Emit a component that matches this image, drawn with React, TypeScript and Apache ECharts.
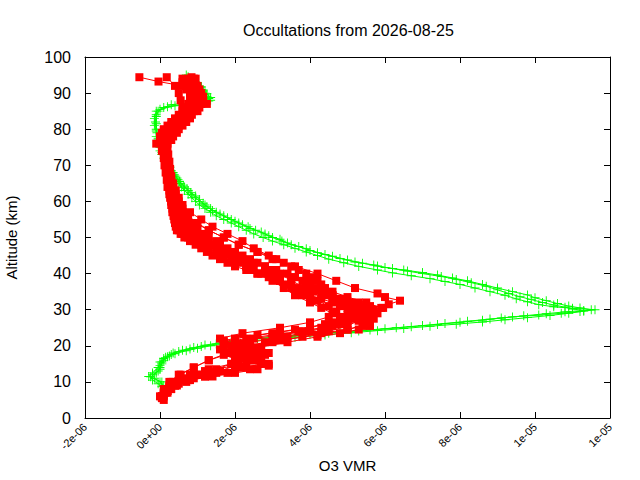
import React, { useEffect, useRef } from 'react';
import * as echarts from 'echarts';

// O3 VMR values in units of 1e-6, altitudes in km: [vmr, altitude]
const xTickValues = [-2, 0, 2, 4, 6, 8, 10, 12];
const xTickLabels = ['-2e-06', '0e+00', '2e-06', '4e-06', '6e-06', '8e-06', '1e-05', '1e-05'];

const green1: [number, number][] = [
  [0.05, 8.7], [-0.05, 9.5], [-0.2, 10.5], [-0.25, 11.4], [-0.1, 12.5], [0.0, 13.5], [0.0, 14.5], [0.05, 15.5],
  [0.1, 16.5], [0.25, 17.2], [0.35, 18], [0.6, 18.8], [0.9, 19.5], [1.2, 20.2], [1.6, 20.8], [2.0, 21.4],
  [2.6, 22], [3.3, 22.6], [4.0, 23.2], [4.8, 23.8], [5.6, 24.4], [6.3, 25], [7.0, 25.6], [7.6, 26.2],
  [8.2, 26.8], [8.8, 27.4], [9.4, 28], [10.1, 28.5], [10.7, 29], [11.2, 29.5], [11.5, 30], [11.2, 30.5],
  [10.9, 31], [10.6, 31.7], [10.3, 32.5], [10.0, 33.3], [9.8, 34.1], [9.4, 35], [9.0, 36], [8.6, 37],
  [8.2, 38], [7.8, 38.8], [7.4, 39.6], [7.0, 40.3], [6.5, 41], [6.0, 41.7], [5.7, 42.4], [5.2, 43.2],
  [4.8, 44.2], [4.4, 45.3], [4.0, 46.4], [3.7, 47.5], [3.4, 48.5], [3.2, 49.5], [2.9, 50.5], [2.7, 51.5],
  [2.4, 52.5], [2.2, 53.5], [2.0, 54.5], [1.8, 55.5], [1.6, 56.5], [1.4, 57.5], [1.25, 58.5], [1.15, 59.5],
  [1.05, 60.5], [0.95, 61.5], [0.82, 62.5], [0.72, 63.5], [0.62, 64.5], [0.52, 65.5], [0.45, 66.5], [0.38, 67.5],
  [0.3, 68.5], [0.22, 70], [0.1, 72], [0.0, 74], [-0.05, 76], [-0.1, 78], [-0.1, 80], [-0.12, 82],
  [-0.1, 84], [0.0, 85.5], [0.4, 86.5], [1.2, 87.5], [1.3, 88.5], [1.2, 89.5], [1.15, 90.5], [1.1, 91.5],
  [1.0, 92.5], [0.9, 93.5], [0.75, 94.5],
];

const green2: [number, number][] = [
  [0.1, 9], [0.0, 10], [-0.15, 11], [-0.2, 12], [-0.05, 13], [0.0, 14], [0.05, 15], [0.1, 16],
  [0.2, 17], [0.4, 17.8], [0.7, 18.6], [1.0, 19.3], [1.35, 20], [1.8, 20.6], [2.3, 21.2], [2.9, 21.8],
  [3.6, 22.4], [4.4, 23], [5.1, 23.6], [5.8, 24.2], [6.5, 24.8], [7.2, 25.4], [7.9, 26], [8.6, 26.6],
  [9.2, 27.2], [9.8, 27.8], [10.4, 28.4], [10.9, 29], [11.3, 29.6], [11.6, 30], [11.0, 30.4], [10.5, 30.8],
  [10.1, 31.4], [9.8, 32.2], [9.5, 33], [9.2, 34], [8.8, 35], [8.4, 36], [8.0, 37], [7.6, 37.8],
  [7.2, 38.6], [6.7, 39.4], [6.2, 40.2], [5.8, 41], [5.3, 42], [4.9, 43], [4.5, 44], [4.2, 45],
  [3.9, 46], [3.6, 47], [3.3, 48], [3.0, 49], [2.75, 50], [2.5, 51], [2.3, 52], [2.1, 53],
  [1.9, 54], [1.7, 55], [1.5, 56], [1.35, 57], [1.2, 58], [1.05, 59], [0.95, 60], [0.85, 61],
  [0.75, 62], [0.65, 63], [0.57, 64], [0.5, 65], [0.43, 66], [0.37, 67], [0.3, 68], [0.25, 69],
  [0.15, 71], [0.05, 73], [0.0, 75], [-0.05, 77], [-0.08, 79], [-0.15, 81], [-0.15, 83], [-0.1, 85],
  [0.1, 86], [0.3, 86.8], [0.9, 87.4], [1.35, 88], [1.25, 89], [1.2, 90], [1.1, 91], [1.05, 92],
  [0.95, 93], [0.85, 94], [0.7, 95],
];

const green3: [number, number][] = [
  [0.05, 10], [-0.3, 11.5], [-0.2, 12.5], [-0.05, 14], [0.0, 15.5], [0.15, 16.8], [0.3, 17.6], [0.5, 18.4],
  [0.8, 19.1], [1.1, 19.8], [1.5, 20.5], [1.9, 21.1], [2.4, 21.7], [3.0, 22.3], [3.7, 22.9], [4.5, 23.5],
  [5.3, 24.1], [6.0, 24.7], [6.7, 25.3], [7.4, 25.9], [8.0, 26.5], [8.6, 27.1], [9.1, 27.7], [9.7, 28.3],
  [10.3, 28.9], [10.8, 29.4], [11.3, 29.8], [11.0, 30.2], [10.8, 30.7], [10.5, 31.3], [10.2, 32], [9.9, 32.8],
  [9.6, 33.6], [9.3, 34.5], [9.0, 35.5], [8.7, 36.5], [8.3, 37.5], [7.9, 38.4], [7.5, 39.2], [7.0, 40],
  [6.6, 40.7], [6.2, 41.4], [5.8, 42.1], [5.4, 42.9], [5.0, 43.8], [4.6, 44.8], [4.2, 45.8], [3.9, 46.9],
  [3.5, 48], [3.25, 49], [3.0, 50], [2.8, 51], [2.55, 52], [2.35, 53], [2.1, 54], [1.9, 55],
  [1.7, 56], [1.5, 57], [1.35, 58], [1.2, 59], [1.05, 60], [0.95, 61], [0.85, 62], [0.75, 63],
  [0.65, 64], [0.55, 65], [0.48, 66], [0.42, 67], [0.35, 68], [0.27, 69.5], [0.15, 71.5], [0.05, 73.5],
  [0.0, 75.5], [-0.05, 77.5], [-0.1, 79.5], [-0.1, 81.5], [-0.1, 83.5], [-0.05, 85], [0.2, 86.2], [0.7, 87],
  [1.3, 87.8], [1.35, 88.8], [1.25, 89.8], [1.15, 90.8], [1.1, 91.8], [1.0, 92.8], [0.9, 93.8],
];

const red1: [number, number][] = [
  [0.05, 6], [0.15, 8], [0.35, 10], [0.8, 12], [1.3, 13.5], [1.9, 15], [2.3, 16], [2.4, 17],
  [2.2, 18.5], [2.0, 20], [1.7, 21.5], [2.6, 23], [3.6, 24.5], [4.4, 26], [4.8, 27.5], [4.6, 29],
  [4.3, 30.5], [4.0, 32], [3.6, 34], [3.3, 36], [3.0, 38], [2.6, 40], [2.3, 42], [1.9, 44],
  [1.6, 46], [1.3, 48], [0.9, 50], [0.6, 52], [0.45, 54], [0.38, 56], [0.35, 58], [0.3, 60],
  [0.25, 62], [0.2, 64], [0.18, 66], [0.15, 68], [0.12, 70], [0.1, 72], [0.05, 74], [-0.1, 76],
  [0.0, 78], [0.1, 80], [0.3, 82], [0.5, 84], [0.6, 86], [0.55, 88], [0.5, 90], [0.4, 92], [0.18, 94.4],
];

const red2: [number, number][] = [
  [0.1, 5], [0.2, 7], [0.4, 9], [0.9, 11], [1.5, 12.5], [2.2, 14], [2.8, 15], [2.6, 16.5],
  [2.9, 18], [2.5, 19.5], [3.0, 21], [3.8, 22.5], [4.5, 24], [5.0, 25.5], [5.3, 27], [5.4, 28.5],
  [5.2, 30], [5.0, 31.5], [4.7, 33], [4.4, 35], [4.0, 37], [3.5, 39], [3.0, 41], [2.6, 43],
  [2.2, 45], [1.8, 47], [1.5, 49], [1.2, 51], [0.9, 53], [0.7, 55], [0.55, 57], [0.45, 59],
  [0.38, 61], [0.32, 63], [0.28, 65], [0.25, 67], [0.22, 69], [0.2, 71], [0.18, 73], [0.15, 75],
  [0.2, 77], [0.3, 79], [0.5, 81], [0.7, 83], [0.9, 85], [1.1, 87], [1.0, 89], [0.9, 91],
  [0.8, 93], [0.84, 94.4],
];

const red3: [number, number][] = [
  [0.0, 6], [0.1, 8], [0.25, 10], [0.5, 12], [0.9, 14], [1.3, 16], [1.8, 18], [2.4, 20],
  [3.2, 21.5], [4.2, 23], [5.0, 24.5], [5.5, 26], [5.7, 27.5], [5.8, 29], [5.9, 30.5], [5.5, 32],
  [5.0, 33.5], [4.6, 35], [4.3, 37], [4.0, 39], [3.7, 41], [3.3, 43], [2.9, 45], [2.5, 47],
  [2.2, 49], [1.8, 51], [1.4, 53], [1.1, 55], [0.8, 57], [0.6, 59], [0.5, 61], [0.42, 63],
  [0.35, 65], [0.3, 67], [0.27, 69], [0.25, 71], [0.22, 73], [0.2, 75], [0.3, 77], [0.45, 79],
  [0.6, 81], [0.8, 83], [1.0, 85], [1.25, 87], [1.15, 89], [1.0, 91], [0.9, 93],
];

const red4: [number, number][] = [
  [0.1, 7], [0.25, 9], [0.6, 11], [1.2, 13], [2.0, 14.5], [2.7, 15.5], [2.3, 17], [2.0, 19],
  [2.8, 21], [3.3, 22.5], [4.0, 24], [4.6, 25.5], [5.0, 27], [5.3, 28.5], [5.6, 30], [5.95, 30.5],
  [6.1, 31.5], [6.4, 32.5], [6.0, 33.5], [5.8, 34.5], [5.2, 36], [4.7, 38], [4.2, 40], [3.6, 42],
  [3.1, 44], [2.6, 46], [2.1, 48], [1.7, 50], [1.3, 52], [1.0, 54], [0.75, 56], [0.6, 58],
  [0.5, 60], [0.42, 62], [0.36, 64], [0.3, 66], [0.26, 68], [0.22, 70], [0.2, 72], [0.17, 74],
  [0.15, 76], [0.25, 78], [0.4, 80], [0.55, 82], [0.75, 84], [0.95, 86], [1.0, 88], [0.85, 90],
  [0.7, 92], [0.6, 94],
];

const red5: [number, number][] = [
  [0.05, 5.5], [0.2, 7.5], [0.5, 9.5], [1.2, 11.5], [1.8, 12.5], [2.4, 13.5], [2.9, 14.5], [2.1, 16],
  [1.7, 17.5], [1.9, 19], [2.2, 20.5], [2.0, 22], [3.0, 23.5], [4.0, 25], [4.6, 26.5], [4.9, 28],
  [5.1, 29.5], [4.8, 31], [4.6, 32.5], [4.3, 34], [3.9, 36], [3.5, 38], [3.2, 40], [2.8, 42],
  [2.4, 44], [2.0, 46], [1.6, 48], [1.3, 50], [1.0, 52], [0.75, 54], [0.55, 56], [0.45, 58],
  [0.38, 60], [0.32, 62], [0.27, 64], [0.24, 66], [0.2, 68], [0.18, 70], [0.16, 72], [0.12, 74],
  [0.05, 76], [0.1, 78], [0.25, 80], [0.4, 82], [0.6, 84], [0.8, 86], [0.85, 88], [0.8, 90],
  [0.6, 92], [-0.04, 93.2], [-0.55, 94.4],
];

const red6: [number, number][] = [
  [0.1, 6], [0.3, 8], [0.7, 10], [1.2, 11.5], [1.6, 13], [2.0, 14.5], [2.5, 16], [2.8, 17.5],
  [2.6, 19], [2.3, 20.5], [1.6, 22], [2.2, 23.5], [3.2, 25], [4.0, 26.5], [4.5, 28], [4.7, 29.5],
  [4.5, 31], [4.2, 32.5], [3.8, 34], [3.5, 36], [3.2, 38], [2.8, 40], [2.4, 42], [2.0, 44],
  [1.7, 46], [1.4, 48], [1.1, 50], [0.85, 52], [0.65, 54], [0.5, 56], [0.4, 58], [0.33, 60],
  [0.28, 62], [0.24, 64], [0.2, 66], [0.18, 68], [0.15, 70], [0.12, 72], [0.1, 74], [0.08, 76],
  [0.15, 78], [0.3, 80], [0.45, 82], [0.65, 84], [0.85, 86], [0.95, 88], [0.95, 90], [0.85, 92],
  [0.75, 94],
];

const red7: [number, number][] = [
  [0.05, 6], [0.15, 8], [0.3, 10], [0.55, 12], [0.9, 14], [1.3, 16], [1.9, 18], [2.6, 19.5],
  [3.4, 21], [4.2, 22.5], [4.8, 23.5], [5.3, 24.5], [5.6, 25.5], [5.6, 26.5], [5.5, 27.5], [5.3, 29],
  [5.0, 30.5], [4.8, 32], [4.6, 34], [4.4, 36], [4.2, 38], [3.9, 40], [3.5, 42], [3.0, 44],
  [2.6, 46], [2.1, 48], [1.7, 50], [1.3, 52], [0.95, 54], [0.7, 56], [0.55, 58], [0.45, 60],
  [0.38, 62], [0.33, 64], [0.28, 66], [0.24, 68], [0.22, 70], [0.2, 72], [0.18, 74], [0.2, 76],
  [0.35, 78], [0.5, 80], [0.7, 82], [0.85, 84], [1.05, 86], [1.1, 88], [1.05, 90], [0.95, 92],
  [0.9, 94],
];

const red8: [number, number][] = [
  [0.1, 6.5], [0.25, 8.5], [0.55, 10.5], [1.0, 12], [1.6, 13], [2.3, 14], [2.7, 15], [2.5, 16],
  [2.2, 17], [2.4, 18], [2.7, 19.5], [2.4, 21], [3.4, 22.5], [4.3, 23.5], [5.0, 24.5], [5.4, 25.5],
  [5.5, 26.5], [5.2, 27.5], [5.0, 28.5], [5.3, 29.5], [5.6, 31], [5.3, 32], [4.9, 33], [4.6, 34],
  [4.4, 35], [4.2, 36], [4.0, 37], [3.8, 38], [3.6, 39], [3.4, 40], [3.1, 41], [2.8, 42],
  [2.5, 43], [2.2, 44], [2.0, 45], [1.8, 46], [1.5, 47], [1.3, 48], [1.1, 49], [0.95, 50],
  [0.8, 51], [0.65, 52], [0.55, 53], [0.5, 55], [0.42, 57], [0.36, 59], [0.32, 61], [0.28, 63],
  [0.25, 65], [0.22, 67], [0.2, 69], [0.18, 71], [0.15, 73], [0.1, 75], [0.05, 77], [0.15, 79],
  [0.3, 81], [0.5, 83], [0.7, 85], [0.9, 87], [1.1, 89], [1.05, 91], [0.85, 93],
];

const red9: [number, number][] = [
  [0.15, 7], [0.4, 9], [0.8, 10.5], [1.4, 11.5], [2.0, 12.5], [2.6, 13.5], [2.9, 15], [2.5, 16],
  [2.0, 17], [1.8, 18], [1.6, 19], [1.7, 20], [2.0, 21], [2.5, 22], [3.2, 23], [3.8, 24],
  [4.3, 25], [4.7, 26], [5.0, 27], [5.2, 28], [5.5, 29], [5.7, 30], [5.4, 31], [5.1, 32],
  [4.8, 33], [4.5, 34], [4.1, 35], [3.8, 36], [3.5, 37], [3.2, 38], [3.0, 39], [2.7, 40],
  [2.5, 41], [2.3, 42], [2.1, 43], [1.9, 44], [1.7, 45], [1.5, 46], [1.3, 47], [1.1, 48],
  [0.9, 49], [0.75, 50], [0.6, 51], [0.5, 52], [0.42, 53], [0.38, 55], [0.33, 57], [0.3, 59],
  [0.27, 61], [0.25, 63], [0.22, 65], [0.2, 67], [0.17, 69], [0.14, 71], [0.12, 73], [0.08, 75],
  [0.0, 77], [0.05, 79], [0.2, 81], [0.4, 83], [0.6, 85], [0.75, 87], [0.8, 89], [0.7, 91],
  [0.6, 93],
];

const red10: [number, number][] = [
  [0.05, 6], [0.2, 7.5], [0.45, 9], [0.75, 10.5], [1.1, 12], [1.5, 13.5], [1.9, 15], [2.3, 16.5],
  [2.6, 18], [2.3, 19], [1.9, 20], [1.7, 21], [2.3, 22], [3.0, 23], [3.7, 24], [4.4, 25],
  [4.9, 26], [5.3, 27], [5.6, 28], [5.5, 29], [5.2, 30], [4.9, 31], [4.6, 32], [4.3, 33],
  [4.0, 34], [3.8, 35], [3.6, 36], [3.4, 37], [3.2, 38], [2.9, 39], [2.6, 40], [2.3, 41],
  [2.0, 42], [1.8, 43], [1.6, 44], [1.4, 45], [1.25, 46], [1.1, 47], [0.95, 48], [0.8, 49],
  [0.65, 50], [0.55, 51], [0.45, 52], [0.4, 54], [0.36, 56], [0.33, 58], [0.3, 60], [0.28, 62],
  [0.26, 64], [0.24, 66], [0.22, 68], [0.2, 70], [0.18, 72], [0.15, 74], [0.12, 76], [0.2, 78],
  [0.35, 80], [0.55, 82], [0.75, 84], [0.95, 86], [1.15, 88], [1.1, 90], [1.0, 92], [0.95, 94],
];

const greenProfiles = [green1, green2, green3];
const redProfiles = [red1, red2, red3, red4, red5, red6, red7, red8, red9, red10];

const FONT = 'Liberation Sans, Arial, sans-serif';
const PLUS = 'path://M4.5,0H5.5V4.5H10V5.5H5.5V10H4.5V5.5H0V4.5H4.5Z';

export default function App() {
  const chartEl = useRef<HTMLDivElement>(null);

  useEffect(() => {
    if (!chartEl.current) return;
    const chart = echarts.init(chartEl.current, null, { renderer: 'svg' });

    const xAxisBase = {
      type: 'value',
      min: -2,
      max: 12,
      interval: 2,
      axisLine: { show: true, onZero: false, lineStyle: { color: '#000', width: 1 } },
      axisTick: { show: true, inside: true, length: 6, lineStyle: { color: '#000' } },
      splitLine: { show: false },
    };
    const yAxisBase = {
      type: 'value',
      min: 0,
      max: 100,
      interval: 10,
      axisLine: { show: true, onZero: false, lineStyle: { color: '#000', width: 1 } },
      axisTick: { show: true, inside: true, length: 6, lineStyle: { color: '#000' } },
      splitLine: { show: false },
    };

    chart.setOption({
      animation: false,
      backgroundColor: '#fff',
      textStyle: { fontFamily: FONT },
      title: {
        text: 'Occultations from 2026-08-25',
        left: 238,
        top: 17,
        textStyle: { fontSize: 16, fontWeight: 'normal', color: '#000', fontFamily: FONT },
      },
      grid: { left: 85, right: 30, top: 57, bottom: 62, containLabel: false, outerBoundsMode: 'none' },
      xAxis: [
        {
          ...xAxisBase,
          position: 'bottom',
          name: 'O3 VMR',
          nameLocation: 'middle',
          nameGap: 40,
          nameTextStyle: { fontSize: 15, color: '#000', fontFamily: FONT },
          axisLabel: {
            show: true,
            rotate: 45,
            fontSize: 11,
            color: '#000',
            margin: 7,
            fontFamily: FONT,
            formatter: (v: number) => xTickLabels[xTickValues.indexOf(v)] ?? '',
          },
        },
        { ...xAxisBase, position: 'top', axisLabel: { show: false } },
      ],
      yAxis: [
        {
          ...yAxisBase,
          position: 'left',
          name: 'Altitude (km)',
          nameLocation: 'middle',
          nameGap: 66,
          nameRotate: 90,
          nameTextStyle: { fontSize: 15, color: '#000', fontFamily: FONT },
          axisLabel: { show: true, fontSize: 16, color: '#000', margin: 14, fontFamily: FONT },
        },
        { ...yAxisBase, position: 'right', axisLabel: { show: false } },
      ],
      series: [
        ...greenProfiles.map((p) => ({
          type: 'line',
          data: p,
          symbol: PLUS,
          symbolSize: 9,
          showAllSymbol: true,
          lineStyle: { color: '#00ff00', width: 1 },
          itemStyle: { color: '#00ff00' },
          z: 2,
        })),
        ...redProfiles.map((p) => ({
          type: 'line',
          data: p,
          symbol: 'rect',
          symbolSize: 8,
          showAllSymbol: true,
          lineStyle: { color: '#ff0000', width: 1 },
          itemStyle: { color: '#ff0000' },
          z: 3,
        })),
      ],
    });

    return () => chart.dispose();
  }, []);

  return (
    <div
      ref={chartEl}
      style={{ position: 'fixed', left: 0, top: 0, width: 640, height: 480, background: '#fff' }}
    />
  );
}
